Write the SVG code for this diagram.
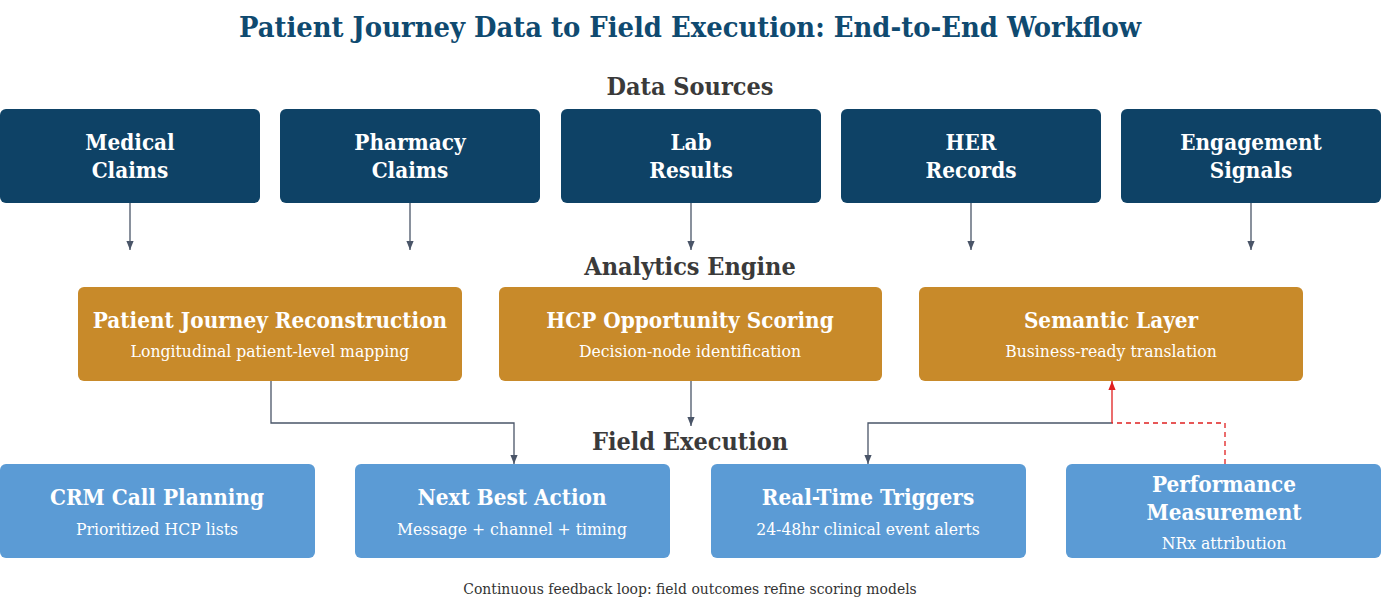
<svg xmlns="http://www.w3.org/2000/svg" width="1381" height="607" viewBox="0 0 1381 607">
<defs>
<style>
text{font-family:"DejaVu Serif","Liberation Serif",serif;text-anchor:middle;font-stretch:condensed}
.title{font-size:28.8px;font-weight:bold;fill:#0f4a70}
.sec{font-size:25px;font-weight:bold;fill:#3a3a3a}
.nt{font-size:22.3px;font-weight:bold;fill:#fff}
.ns{font-size:17.4px;fill:#fff}
.foot{font-size:15.5px;fill:#333}
.src{fill:#0e4266}
.ana{fill:#c88a2a}
.fld{fill:#5b9bd5}
.con{fill:none;stroke:#4a5568;stroke-width:1.3}
.fb{fill:none;stroke:#e02020;stroke-width:1.3}
</style>
<marker id="ah" viewBox="0 0 10 10" refX="10" refY="5" markerWidth="11" markerHeight="9" markerUnits="userSpaceOnUse" orient="auto"><path d="M0,1 L10,5 L0,9 Z" fill="#4a5568"/></marker>
<marker id="ahr" viewBox="0 0 10 10" refX="10" refY="5" markerWidth="11" markerHeight="9" markerUnits="userSpaceOnUse" orient="auto"><path d="M0,1 L10,5 L0,9 Z" fill="#e02020"/></marker>
</defs>
<rect width="1381" height="607" fill="#fff"/>
<text class="title" x="690" y="37">Patient Journey Data to Field Execution: End-to-End Workflow</text>
<text class="sec" x="690" y="95">Data Sources</text>
<text class="sec" x="690" y="275">Analytics Engine</text>
<text class="sec" x="690" y="450">Field Execution</text>

<g id="connectors">
<path class="con" d="M130,203 V250" marker-end="url(#ah)"/>
<path class="con" d="M410,203 V250" marker-end="url(#ah)"/>
<path class="con" d="M691,203 V250" marker-end="url(#ah)"/>
<path class="con" d="M971,203 V250" marker-end="url(#ah)"/>
<path class="con" d="M1251,203 V250" marker-end="url(#ah)"/>
<path class="con" d="M271,381 V423 H514 V464" marker-end="url(#ah)"/>
<path class="con" d="M691,381 V426" marker-end="url(#ah)"/>
<path class="con" d="M1112,423 H868 V464" marker-end="url(#ah)"/>
<path class="fb" d="M1225,464 V423 H1112" stroke-dasharray="5,4"/>
<path class="fb" d="M1112,423 V381" marker-end="url(#ahr)"/>
</g>

<g id="medical-claims"><rect class="src" x="0" y="109" width="260" height="94" rx="6"/><text class="nt" x="130" y="150">Medical</text><text class="nt" x="130" y="178">Claims</text></g>
<g id="pharmacy-claims"><rect class="src" x="280" y="109" width="260" height="94" rx="6"/><text class="nt" x="410" y="150">Pharmacy</text><text class="nt" x="410" y="178">Claims</text></g>
<g id="lab-results"><rect class="src" x="561" y="109" width="260" height="94" rx="6"/><text class="nt" x="691" y="150">Lab</text><text class="nt" x="691" y="178">Results</text></g>
<g id="her-records"><rect class="src" x="841" y="109" width="260" height="94" rx="6"/><text class="nt" x="971" y="150">HER</text><text class="nt" x="971" y="178">Records</text></g>
<g id="engagement-signals"><rect class="src" x="1121" y="109" width="260" height="94" rx="6"/><text class="nt" x="1251" y="150">Engagement</text><text class="nt" x="1251" y="178">Signals</text></g>

<g id="patient-journey"><rect class="ana" x="78" y="287" width="384" height="94" rx="6"/><text class="nt" x="270" y="328">Patient Journey Reconstruction</text><text class="ns" x="270" y="357">Longitudinal patient-level mapping</text></g>
<g id="hcp-scoring"><rect class="ana" x="499" y="287" width="383" height="94" rx="6"/><text class="nt" x="690" y="328">HCP Opportunity Scoring</text><text class="ns" x="690" y="357">Decision-node identification</text></g>
<g id="semantic-layer"><rect class="ana" x="919" y="287" width="384" height="94" rx="6"/><text class="nt" x="1111" y="328">Semantic Layer</text><text class="ns" x="1111" y="357">Business-ready translation</text></g>

<g id="crm"><rect class="fld" x="0" y="464" width="315" height="94" rx="6"/><text class="nt" x="157" y="505">CRM Call Planning</text><text class="ns" x="157" y="535">Prioritized HCP lists</text></g>
<g id="nba"><rect class="fld" x="355" y="464" width="315" height="94" rx="6"/><text class="nt" x="512" y="505">Next Best Action</text><text class="ns" x="512" y="535">Message + channel + timing</text></g>
<g id="triggers"><rect class="fld" x="711" y="464" width="315" height="94" rx="6"/><text class="nt" x="868" y="505">Real-Time Triggers</text><text class="ns" x="868" y="535">24-48hr clinical event alerts</text></g>
<g id="performance"><rect class="fld" x="1066" y="464" width="315" height="94" rx="6"/><text class="nt" x="1224" y="492">Performance</text><text class="nt" x="1224" y="520">Measurement</text><text class="ns" x="1224" y="549">NRx attribution</text></g>

<text class="foot" x="690" y="594">Continuous feedback loop: field outcomes refine scoring models</text>
</svg>
